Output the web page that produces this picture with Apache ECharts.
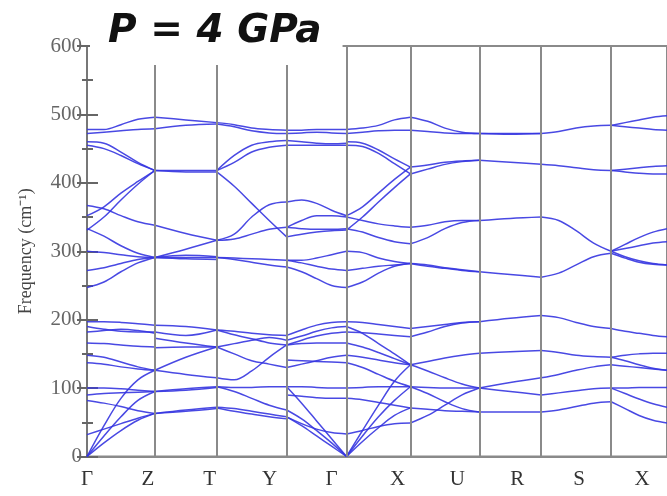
<!DOCTYPE html>
<html>
<head>
<meta charset="utf-8">
<title>Phonon dispersion, P = 4 GPa</title>
<script src="https://cdn.jsdelivr.net/npm/echarts@6/dist/echarts.min.js"></script>
<style>
  html, body { margin: 0; padding: 0; background: #fff; }
  #main { width: 667px; height: 496px; }
</style>
</head>
<body>
<div id="main"></div>
<script>
// high-symmetry points along the path
var kNames = ['Γ', 'Z', 'T', 'Y', 'Γ', 'X', 'U', 'R', 'S', 'X'];
var kPos = [0, 68, 130, 200, 260, 324, 393, 455, 525, 581];
// where the point names are printed (they sit a bit left of the lines in the source)
var kLabelPos = [0, 61, 123, 183, 245, 311, 371, 431, 493, 556];
var yTicks = [0, 100, 200, 300, 400, 500, 600];

// frequencies (cm-1) read along each segment, evenly spaced samples from start to end
var bandsGZ = [
  [478, 478, 485, 493, 496], [472, 474, 476, 478, 479], [460, 458, 445, 430, 418],
  [455, 450, 440, 428, 418], [367, 362, 352, 343, 338], [352, 365, 385, 402, 418],
  [331, 350, 375, 398, 418], [333, 322, 308, 297, 291], [300, 298, 295, 292, 291],
  [272, 276, 282, 288, 291], [247, 255, 270, 283, 291],
  [197, 197, 196, 194, 192], [190, 186, 183, 182, 182], [182, 184, 186, 184, 180],
  [166, 165, 163, 161, 160], [148, 145, 138, 131, 126], [137, 135, 131, 128, 126],
  [100, 100, 99, 97, 95], [90, 92, 93, 94, 95], [82, 78, 73, 67, 63],
  [0, 45, 85, 112, 126], [0, 30, 58, 82, 95], [0, 20, 38, 53, 63], [32, 40, 48, 56, 63]
];
var bandsZT = [
  [496, 492, 488], [479, 484, 486], [418, 418, 418], [418, 416, 416],
  [338, 326, 316], [291, 303, 316], [291, 294, 292], [291, 289, 288], [291, 291, 291],
  [192, 190, 185], [182, 177, 185], [173, 166, 160], [159, 160, 160], [126, 145, 160],
  [126, 120, 115], [95, 99, 102], [95, 97, 101], [63, 68, 72], [63, 66, 70]
];
var bandsTY = [
  [488, 485, 480, 478, 477], [486, 482, 476, 473, 472], [418, 440, 455, 460, 462],
  [418, 430, 445, 452, 455], [416, 395, 370, 345, 321], [316, 325, 350, 368, 372],
  [316, 318, 325, 332, 335], [291, 290, 289, 288, 287], [291, 288, 284, 280, 277],
  [185, 183, 180, 178, 177], [185, 178, 172, 166, 163], [160, 165, 170, 174, 170],
  [160, 150, 140, 135, 130], [115, 112, 125, 145, 163], [102, 101, 101, 102, 102],
  [102, 95, 85, 75, 68], [72, 70, 66, 62, 58], [71, 66, 62, 58, 55]
];
var bandsYG = [
  [477, 477, 478, 478, 478], [472, 473, 474, 473, 472], [462, 460, 458, 457, 458],
  [455, 455, 455, 455, 455], [372, 375, 370, 360, 352], [335, 345, 352, 352, 350],
  [321, 325, 328, 330, 331], [335, 333, 332, 332, 333], [287, 287, 290, 295, 300],
  [287, 283, 278, 274, 272], [277, 270, 260, 250, 247],
  [177, 185, 192, 196, 197], [170, 176, 183, 188, 190], [163, 170, 176, 180, 182],
  [163, 165, 166, 166, 166], [130, 135, 140, 145, 148], [141, 140, 139, 138, 137],
  [102, 102, 101, 100, 100], [90, 88, 86, 85, 85], [102, 78, 52, 26, 0],
  [68, 55, 38, 20, 0], [58, 45, 30, 15, 0], [58, 48, 40, 35, 33]
];
var bandsGX = [
  [478, 480, 484, 492, 496], [472, 474, 476, 477, 477], [460, 458, 448, 435, 423],
  [455, 453, 443, 428, 413], [352, 365, 385, 405, 423], [331, 350, 372, 393, 413],
  [350, 345, 340, 337, 335], [333, 328, 320, 314, 311], [300, 298, 290, 285, 282],
  [272, 275, 278, 280, 282], [247, 255, 268, 278, 282],
  [197, 196, 193, 190, 187], [190, 180, 165, 150, 134], [182, 181, 179, 177, 175],
  [166, 160, 152, 143, 134], [148, 145, 141, 137, 134], [137, 130, 120, 110, 102],
  [100, 101, 102, 102, 102], [85, 83, 79, 75, 71], [0, 38, 75, 110, 134],
  [0, 30, 58, 82, 102], [0, 22, 42, 60, 71], [33, 38, 44, 48, 49]
];
var bandsXU = [
  [496, 490, 480, 474, 472], [477, 475, 473, 472, 472], [423, 426, 430, 432, 433],
  [413, 420, 427, 431, 433], [335, 338, 343, 345, 345], [311, 320, 333, 342, 345],
  [282, 278, 275, 272, 270], [282, 280, 276, 273, 270],
  [187, 190, 193, 196, 197], [175, 182, 190, 195, 197], [134, 139, 144, 148, 151],
  [134, 125, 115, 106, 100], [102, 101, 100, 100, 100], [102, 92, 80, 70, 65],
  [71, 69, 67, 66, 65], [49, 60, 75, 90, 100]
];
var bandsUR = [
  [472, 472, 472], [472, 471, 472], [433, 430, 427], [345, 348, 350], [270, 266, 262],
  [197, 202, 206], [151, 153, 155], [100, 108, 115], [100, 95, 90], [65, 65, 65]
];
var bandsRS = [
  [472, 475, 480, 483, 484], [427, 425, 422, 419, 418], [350, 345, 330, 312, 300],
  [262, 268, 280, 292, 297], [206, 203, 196, 190, 187], [155, 152, 148, 146, 145],
  [115, 120, 126, 131, 134], [90, 93, 96, 99, 100], [65, 68, 73, 78, 80]
];
var bandsSX = [
  [484, 488, 492, 496, 498], [484, 482, 480, 478, 477], [418, 420, 422, 424, 425],
  [418, 416, 414, 413, 413], [300, 310, 320, 328, 333], [300, 304, 308, 312, 314],
  [300, 292, 286, 282, 280], [297, 290, 284, 281, 280], [187, 183, 180, 177, 175],
  [145, 148, 150, 151, 151], [134, 132, 130, 128, 126], [145, 140, 134, 129, 126],
  [100, 100, 101, 101, 101], [100, 92, 84, 77, 72], [80, 70, 60, 53, 49]
];

var segments = [bandsGZ, bandsZT, bandsTY, bandsYG, bandsGX, bandsXU, bandsUR, bandsRS, bandsSX];

var myChart = echarts.init(document.getElementById('main'));

var series = [];
// vertical lines at the interior high-symmetry points
series.push({
  type: 'line',
  data: [],
  silent: true,
  z: 1,
  markLine: {
    silent: true,
    symbol: ['none', 'none'],
    label: { show: false },
    lineStyle: { color: '#8a8a8a', width: 2, type: 'solid' },
    data: kPos.slice(1, kPos.length - 1).map(function (v) { return { xAxis: v }; })
  }
});

segments.forEach(function (seg, i) {
  var x0 = kPos[i], x1 = kPos[i + 1];
  seg.forEach(function (curve) {
    var n = curve.length - 1;
    series.push({
      type: 'line',
      smooth: 0.35,
      showSymbol: false,
      silent: true,
      z: 3,
      lineStyle: { color: '#3535e0', width: 1.5, opacity: 0.9 },
      data: curve.map(function (f, j) { return [x0 + (x1 - x0) * j / n, f]; })
    });
  });
});

var option = {
  backgroundColor: '#fff',
  animation: false,
  title: {
    text: 'P = 4 GPa',
    left: 90,
    top: 0,
    padding: [10, 21, 11, 18],
    backgroundColor: '#fff',
    textStyle: {
      fontFamily: 'DejaVu Sans',
      fontStyle: 'italic',
      fontWeight: 'bold',
      fontSize: 39,
      lineHeight: 44,
      color: '#111'
    }
  },
  grid: {
    left: 87,
    top: 46,
    width: 581,
    height: 410.5,
    show: true,
    borderColor: '#8a8a8a',
    borderWidth: 2
  },
  xAxis: [
    {
      type: 'value',
      min: 0,
      max: kPos[kPos.length - 1],
      axisLine: { lineStyle: { color: '#8a8a8a', width: 2 } },
      axisTick: { show: false },
      axisLabel: { show: false },
      splitLine: { show: false }
    },
    {
      type: 'value',
      position: 'bottom',
      min: 0,
      max: kPos[kPos.length - 1],
      axisLine: { show: false },
      axisTick: { show: false },
      splitLine: { show: false },
      axisLabel: {
        customValues: kLabelPos,
        margin: 12,
        fontFamily: 'Liberation Serif',
        fontSize: 21,
        color: '#333',
        formatter: function (v) {
          var i = kLabelPos.indexOf(v);
          return i >= 0 ? kNames[i] : '';
        }
      }
    }
  ],
  yAxis: [
    {
      type: 'value',
      min: yTicks[0],
      max: yTicks[yTicks.length - 1],
      interval: 100,
      name: 'Frequency (cm\u207B\u00B9)',
      nameLocation: 'middle',
      nameGap: 52,
      nameTextStyle: { fontFamily: 'Liberation Serif', fontSize: 18, color: '#444' },
      axisLine: { show: true, lineStyle: { color: '#777', width: 2 } },
      axisTick: { inside: true, length: 11, lineStyle: { color: '#666', width: 2 } },
      minorTick: { show: true, splitNumber: 2, length: 6, lineStyle: { color: '#666', width: 2 } },
      axisLabel: { margin: 5, fontFamily: 'Liberation Serif', fontSize: 21, color: '#666' },
      splitLine: { show: false }
    },
    {
      type: 'value',
      position: 'right',
      min: yTicks[0],
      max: yTicks[yTicks.length - 1],
      interval: 100,
      axisLine: { show: true, lineStyle: { color: '#777', width: 2 } },
      axisTick: { inside: true, length: 10, lineStyle: { color: '#666', width: 2 } },
      minorTick: { show: true, splitNumber: 2, length: 5, lineStyle: { color: '#666', width: 2 } },
      axisLabel: { show: false },
      splitLine: { show: false }
    }
  ],
  series: series
};

myChart.setOption(option);
</script>
</body>
</html>
